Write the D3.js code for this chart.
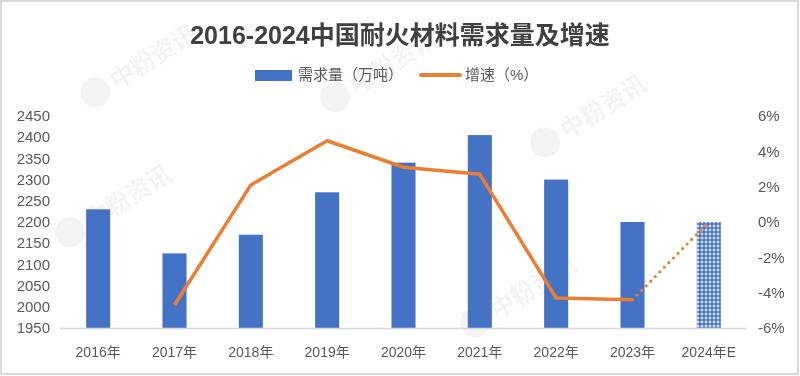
<!DOCTYPE html>
<html>
<head>
<meta charset="utf-8">
<script src="https://cdn.jsdelivr.net/npm/d3@7"></script>
<style>
  body { margin: 0; background: #fff; }
  svg { display: block; }
</style>
</head>
<body>
<svg id="drawing_region"></svg>
<script>
// data
const categories = ["2016年", "2017年", "2018年", "2019年", "2020年", "2021年", "2022年", "2023年", "2024年E"];
const demand = [2230, 2126, 2170, 2270, 2340, 2405, 2300, 2200, 2200];
const growth = [null, -4.7, 2.1, 4.6, 3.1, 2.7, -4.3, -4.4, 0];
const leftTicks = [1950, 2000, 2050, 2100, 2150, 2200, 2250, 2300, 2350, 2400, 2450];
const rightTicks = [-6, -4, -2, 0, 2, 4, 6];

const W = 800, H = 376;
const blue = "#4472C4", orange = "#ED7D31", grey = "#595959";
const font = "'Liberation Sans', 'Noto Sans CJK SC', sans-serif";

const svg = d3.select("#drawing_region")
    .attr("width", W)
    .attr("height", H);

// pattern for the estimate bar
const defs = svg.append("defs");
const pat = defs.append("pattern")
    .attr("id", "est")
    .attr("width", 4)
    .attr("height", 4)
    .attr("patternUnits", "userSpaceOnUse");
pat.append("rect").attr("width", 4).attr("height", 4).attr("fill", blue);
pat.append("rect").attr("x", 1.5).attr("y", 0.5).attr("width", 1).attr("height", 3).attr("fill", "#fff");
pat.append("rect").attr("x", 0.5).attr("y", 1.5).attr("width", 3).attr("height", 1).attr("fill", "#fff");

// frame
svg.append("rect")
    .attr("x", 1).attr("y", 1)
    .attr("width", W - 3).attr("height", H - 3)
    .attr("fill", "#fff")
    .attr("stroke", "#d9d9d9")
    .attr("stroke-width", 2);

// faint watermarks
const marks = [[100, 100], [340, 105], [75, 240], [550, 150], [480, 330]];
const wm = svg.append("g").attr("opacity", 0.05);
marks.forEach(m => {
    const g = wm.append("g").attr("transform", `translate(${m[0]},${m[1]}) rotate(-32)`);
    g.append("circle").attr("cx", 0).attr("cy", -9).attr("r", 15).attr("fill", "#000");
    g.append("text")
        .attr("x", 20).attr("y", 0)
        .attr("font-family", font)
        .attr("font-size", 24)
        .attr("font-weight", "bold")
        .attr("fill", "#000")
        .text("中粉资讯");
});

const plotLeft = 60, plotRight = 747, plotTop = 116, plotBottom = 328;

const xscale = d3.scaleBand()
    .domain(categories)
    .range([plotLeft, plotRight])
    .paddingInner(0.685)
    .paddingOuter(0.3425);

const yscale = d3.scaleLinear()
    .domain([1950, 2450])
    .range([plotBottom, plotTop]);

const yscale2 = d3.scaleLinear()
    .domain([-6, 6])
    .range([plotBottom, plotTop]);

// bars
svg.append("g").selectAll("rect")
    .data(categories)
    .join("rect")
    .attr("x", d => xscale(d))
    .attr("y", (d, i) => yscale(demand[i]))
    .attr("width", xscale.bandwidth())
    .attr("height", (d, i) => plotBottom - yscale(demand[i]))
    .attr("fill", (d, i) => i === categories.length - 1 ? "url(#est)" : blue);

// x axis line
svg.append("line")
    .attr("x1", plotLeft).attr("x2", plotRight)
    .attr("y1", plotBottom + 0.5).attr("y2", plotBottom + 0.5)
    .attr("stroke", "#d9d9d9")
    .attr("stroke-width", 1.5);

const cx = d => xscale(d) + xscale.bandwidth() / 2;
const pts = categories.map((c, i) => ({ x: cx(c), y: growth[i] === null ? null : yscale2(growth[i]) }))
    .filter(p => p.y !== null);
const line = d3.line().x(p => p.x).y(p => p.y);

// solid growth line (2017-2023)
svg.append("path")
    .attr("d", line(pts.slice(0, pts.length - 1)))
    .attr("fill", "none")
    .attr("stroke", orange)
    .attr("stroke-width", 3.5)
    .attr("stroke-linejoin", "round");

// dotted estimate segment
svg.append("path")
    .attr("d", line(pts.slice(pts.length - 2)))
    .attr("fill", "none")
    .attr("stroke", orange)
    .attr("stroke-width", 3.2)
    .attr("stroke-linecap", "round")
    .attr("stroke-dasharray", "0 6.5");

// left axis labels
svg.append("g").selectAll("text")
    .data(leftTicks)
    .join("text")
    .attr("x", 50)
    .attr("y", d => yscale(d))
    .attr("dy", "0.35em")
    .attr("text-anchor", "end")
    .attr("font-family", font)
    .attr("font-size", 15)
    .attr("fill", grey)
    .text(d => d);

// right axis labels
svg.append("g").selectAll("text")
    .data(rightTicks)
    .join("text")
    .attr("x", 758)
    .attr("y", d => yscale2(d))
    .attr("dy", "0.35em")
    .attr("font-family", font)
    .attr("font-size", 15)
    .attr("fill", grey)
    .text(d => d + "%");

// category labels
svg.append("g").selectAll("text")
    .data(categories)
    .join("text")
    .attr("x", d => cx(d))
    .attr("y", 352)
    .attr("dy", "0.35em")
    .attr("text-anchor", "middle")
    .attr("font-family", font)
    .attr("font-size", 14)
    .attr("fill", grey)
    .text(d => d);

// title
svg.append("text")
    .attr("x", 400)
    .attr("y", 35)
    .attr("dy", "0.35em")
    .attr("text-anchor", "middle")
    .attr("font-family", font)
    .attr("font-size", 25)
    .attr("font-weight", "bold")
    .attr("fill", "#404040")
    .text("2016-2024中国耐火材料需求量及增速");

// legend
const lg = svg.append("g").attr("font-family", font).attr("font-size", 15).attr("fill", grey);
lg.append("rect").attr("x", 255).attr("y", 70).attr("width", 37).attr("height", 11).attr("fill", blue);
lg.append("text").attr("x", 298).attr("y", 75).attr("dy", "0.35em").text("需求量（万吨）");
lg.append("line").attr("x1", 421).attr("x2", 460).attr("y1", 75).attr("y2", 75)
    .attr("stroke", orange).attr("stroke-width", 4).attr("stroke-linecap", "round");
lg.append("text").attr("x", 465).attr("y", 75).attr("dy", "0.35em").text("增速（%）");
</script>
</body>
</html>
